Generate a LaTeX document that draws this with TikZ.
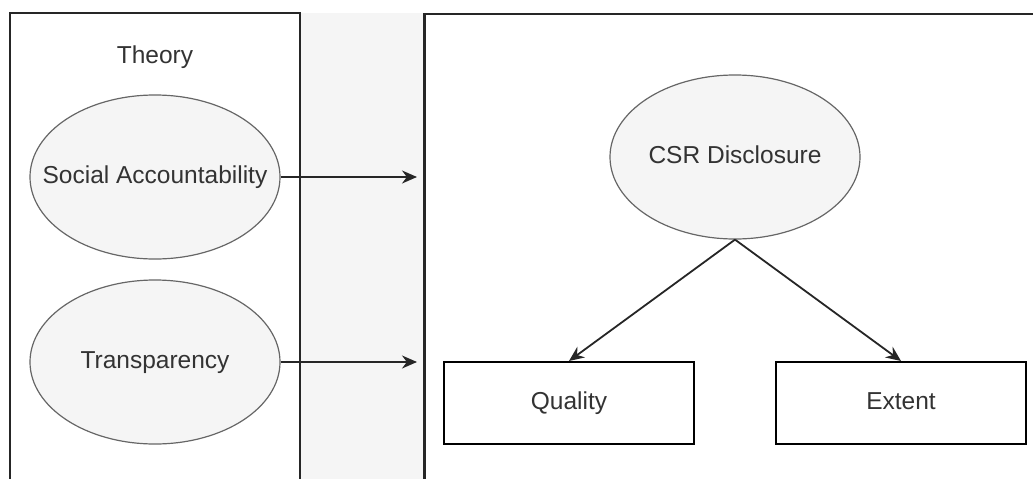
\documentclass[tikz,border=0pt]{standalone}
\usepackage{fontspec}
\setmainfont{Liberation Sans}
\usetikzlibrary{arrows.meta,shapes.geometric}
\definecolor{txtgray}{HTML}{333333}
\definecolor{fillgray}{HTML}{F5F5F5}
\definecolor{linegray}{HTML}{666666}
\tikzset{
  concept/.style={ellipse,draw=linegray,line width=1.2pt,fill=fillgray,
    minimum width=250pt,minimum height=164pt,inner ysep=0pt,inner xsep=-30pt,
    text height=17pt,text depth=5pt,
    text=txtgray,font=\fontsize{24.5}{29}\selectfont},
  measure/.style={rectangle,draw=black,line width=2pt,fill=white,
    minimum width=250pt,minimum height=82pt,inner sep=0pt,
    text height=17pt,text depth=5pt,
    text=txtgray,font=\fontsize{24.5}{29}\selectfont},
  link/.style={line width=1.8pt,draw=black!85,-{Stealth[length=15pt,width=13pt]}}
}
\begin{document}
\begin{tikzpicture}[x=1pt,y=-1pt]
 \useasboundingbox (0,0) rectangle (1033,479);
 \begin{scope}
  \clip (0,0) rectangle (1033,479);
  % middle strip
  \fill[fillgray] (300,13) rectangle (424,485);
  \draw[line width=2pt,black!85] (424,485) -- (424,13);
  % theory box
  \draw[line width=2pt,black!85] (10,485) -- (10,13) -- (300,13) -- (300,485);
  % disclosure box
  \draw[line width=2pt,black!85] (1040,14) -- (425,14) -- (425,485);
 \end{scope}
 \node[text=txtgray,font=\fontsize{24.5}{29}\selectfont] (theory) at (155,57) {Theory};
 \node[concept] (social) at (155,177) {Social Accountability};
 \node[concept] (transp) at (155,362) {Transparency};
 \coordinate (in1) at (417,177);
 \coordinate (in2) at (417,362);
 \node[concept] (csr) at (735,157) {CSR Disclosure};
 \node[measure] (quality) at (569,403) {Quality};
 \node[measure] (extent) at (901,403) {Extent};
 \draw[link] (social.east) -- (in1);
 \draw[link] (transp.east) -- (in2);
 \draw[link] (csr.south) -- (quality.north);
 \draw[link] (csr.south) -- (extent.north);
\end{tikzpicture}
\end{document}
